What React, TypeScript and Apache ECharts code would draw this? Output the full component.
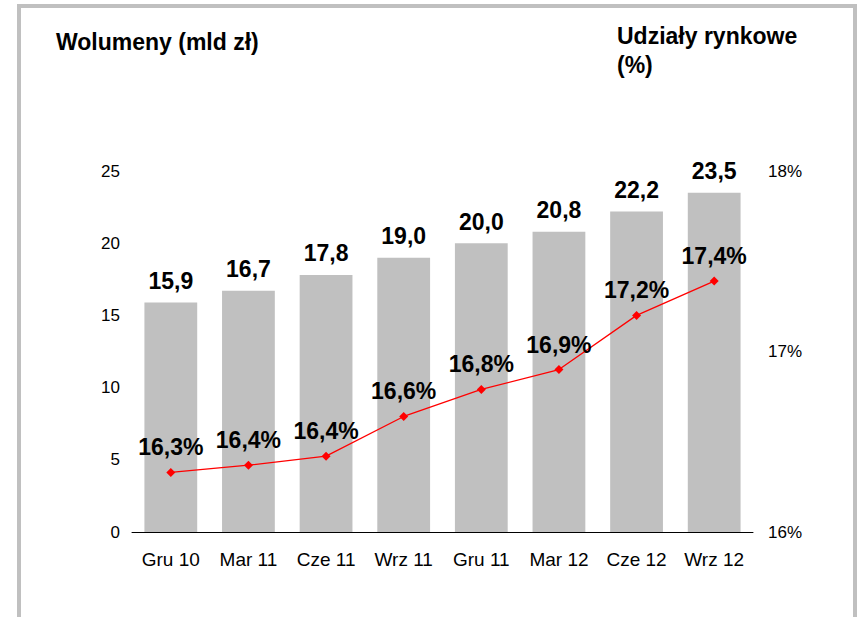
import React, { useEffect, useRef } from "react";
import * as echarts from "echarts";

const categories = ["Gru 10", "Mar 11", "Cze 11", "Wrz 11", "Gru 11", "Mar 12", "Cze 12", "Wrz 12"];
const volumes = [15.9, 16.7, 17.8, 19.0, 20.0, 20.8, 22.2, 23.5];
const marketShares = [16.33, 16.37, 16.42, 16.64, 16.79, 16.9, 17.2, 17.39];
const leftTitle = "Wolumeny (mld zł)";
const rightTitle = "Udziały rynkowe\n(%)";

const FONT = "'Liberation Sans', Arial, sans-serif";

export default function App() {
  const ref = useRef<HTMLDivElement>(null);
  useEffect(() => {
    if (!ref.current) return;
    const chart = echarts.init(ref.current, null, { renderer: "svg" });
    chart.setOption({
      animation: false,
      backgroundColor: "#ffffff",
      textStyle: { fontFamily: FONT },
      graphic: [
        {
          type: "rect",
          shape: { x: 19, y: 6, width: 836, height: 700 },
          style: { fill: "none", stroke: "#c0c0c0", lineWidth: 4 },
          silent: true,
        },
        {
          type: "text",
          x: 56,
          y: 42,
          style: {
            text: leftTitle,
            font: `bold 23px ${FONT}`,
            fill: "#000",
            verticalAlign: "middle",
          },
        },
        {
          type: "text",
          x: 617,
          y: 21,
          style: {
            text: rightTitle,
            font: `bold 23px ${FONT}`,
            lineHeight: 29,
            fill: "#000",
            verticalAlign: "top",
          },
        },
      ],
      grid: { left: 132, right: 107, top: 171, bottom: 85, containLabel: false },
      xAxis: {
        type: "category",
        data: categories,
        axisLine: { show: true, lineStyle: { color: "#000", width: 1 } },
        axisTick: { show: false },
        axisLabel: { color: "#000", fontSize: 19, margin: 18, fontFamily: FONT, interval: 0 },
      },
      yAxis: [
        {
          type: "value",
          min: 0,
          max: 25,
          interval: 5,
          splitLine: { show: false },
          axisLine: { show: false },
          axisTick: { show: false },
          axisLabel: { color: "#000", fontSize: 17, margin: 12, fontFamily: FONT },
        },
        {
          type: "value",
          min: 16,
          max: 18,
          interval: 1,
          position: "right",
          splitLine: { show: false },
          axisLine: { show: false },
          axisTick: { show: false },
          axisLabel: {
            color: "#000",
            fontSize: 17,
            margin: 15,
            fontFamily: FONT,
            formatter: "{value}%",
          },
        },
      ],
      series: [
        {
          type: "bar",
          data: volumes,
          yAxisIndex: 0,
          barWidth: "68%",
          itemStyle: { color: "#c0c0c0" },
          label: {
            show: true,
            position: "top",
            distance: 10,
            color: "#000",
            fontSize: 23,
            fontWeight: "bold",
            fontFamily: FONT,
            formatter: (p: any) => Number(p.value).toFixed(1).replace(".", ","),
          },
          z: 1,
        },
        {
          type: "line",
          data: marketShares,
          yAxisIndex: 1,
          symbol: "diamond",
          symbolSize: 9,
          lineStyle: { color: "#ff0000", width: 1.3 },
          itemStyle: { color: "#ff0000" },
          label: {
            show: true,
            position: "top",
            distance: 9,
            color: "#000",
            fontSize: 23,
            fontWeight: "bold",
            fontFamily: FONT,
            formatter: (p: any) => Number(p.value).toFixed(1).replace(".", ",") + "%",
          },
          z: 3,
        },
      ],
    });
    return () => chart.dispose();
  }, []);
  return (
    <div
      ref={ref}
      style={{ position: "fixed", left: 0, top: 0, width: 860, height: 617 }}
    />
  );
}
